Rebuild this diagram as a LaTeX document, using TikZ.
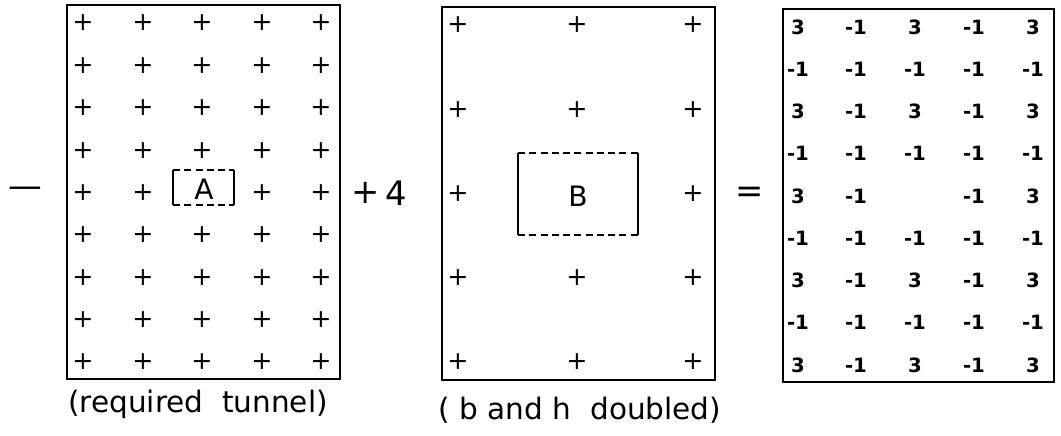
\documentclass[tikz,border=0pt]{standalone}
\usepackage{fontspec}
\setmainfont{DejaVu Sans}

\begin{document}
\begin{tikzpicture}[x=0.025cm,y=-0.025cm,
  frame/.style={draw,line width=1.9pt},
  hole/.style={draw,line width=0.9pt,dash pattern=on 5pt off 3pt},
  side/.style={draw,line width=0.9pt},
  cross/.style={font=\fontsize{18}{18}\selectfont,inner sep=0pt},
  val/.style={font=\fontsize{14}{14}\selectfont\bfseries,inner sep=0pt},
  sign/.style={font=\fontsize{24}{24}\selectfont,inner sep=0pt},
  tag/.style={font=\fontsize{20}{20}\selectfont,inner sep=0pt},
  caption/.style={font=\fontsize{21}{21}\selectfont,inner sep=0pt}]
	\useasboundingbox (0,0) rectangle (1061,435);
	
	% left panel
	\draw[frame] (67,5) rectangle (340,379);
	\foreach \i/\x in {1/83,2/143,3/202,4/262,5/321}{
	  \foreach \j in {0,...,8}{
	    \pgfmathtruncatemacro{\skip}{(\i==3 && \j==4)}
	    \ifnum\skip=0
	      \node[cross] (pa-\i-\j) at (\x,23+42.375*\j) {+};
	    \fi
	  }
	}
	\draw[hole] (173,170) -- (234,170);
	\draw[hole] (173,205) -- (234,205);
	\draw[side] (173,170) -- (173,205);
	\draw[side] (234,170) -- (234,205);
	\node[tag] (A) at (204,189) {A};
	\node[caption] (capA) at (198,404) {(required\ \ tunnel)};
	
	% middle panel
	\draw[frame] (442,7) rectangle (715,380);
	\foreach \i/\x in {1/458,2/577,3/693}{
	  \foreach \j in {0,...,4}{
	    \pgfmathtruncatemacro{\skip}{(\i==2 && \j==2)}
	    \ifnum\skip=0
	      \node[cross] (pb-\i-\j) at (\x,25+84.25*\j) {+};
	    \fi
	  }
	}
	\draw[hole] (518,153) -- (638,153);
	\draw[hole] (518,235) -- (638,235);
	\draw[side] (518,153) -- (518,235);
	\draw[side] (638,153) -- (638,235);
	\node[tag] (B) at (578,196) {B};
	\node[caption] (capB) at (580,410) {(\ b\ and\ h\ \ doubled)};
	
	% right panel
	\draw[frame] (783,9) rectangle (1054,382);
	\foreach \i/\x in {1/798,2/856,3/915,4/974,5/1033}{
	  \foreach \j in {0,...,8}{
	    \pgfmathtruncatemacro{\kind}{(\i==3 && \j==4) ? 2 : ((mod(\j,2)==0 && mod(\i,2)==1) ? 1 : 0)}
	    \ifcase\kind
	      \node[val] (pc-\i-\j) at (\x,27+42.25*\j) {-1};
	    \or
	      \node[val] (pc-\i-\j) at (\x,27+42.25*\j) {3};
	    \fi
	  }
	}
	
	% operators
	\node[sign] (minus) at (25,192) {\textemdash};
	\node[sign] (plus) at (366,193) {+};
	\node[sign] (four) at (396,193) {4};
	\node[sign] (equal) at (750,195) {=};
\end{tikzpicture}
\end{document}
